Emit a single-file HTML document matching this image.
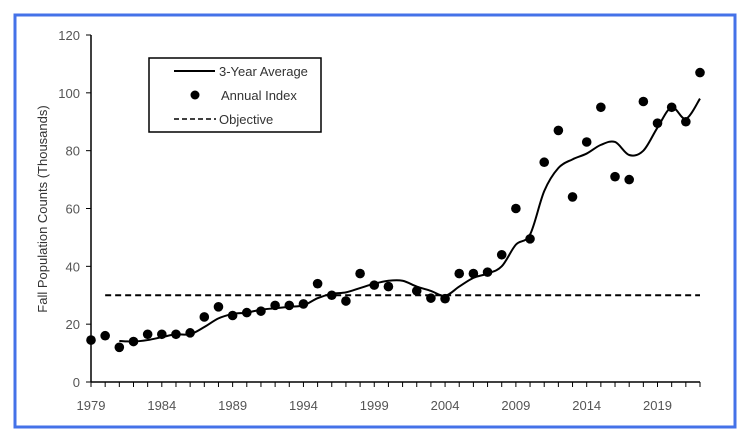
<!DOCTYPE html>
<html><head><meta charset="utf-8"><style>
body{margin:0;background:#fff;}
svg{display:block;font-family:"Liberation Sans",sans-serif;}
</style></head><body>
<svg id="chart" width="739" height="440">
<rect x="15" y="15" width="720" height="412" fill="#fff" stroke="#4472e8" stroke-width="3"/>
<g id="axes"></g><g id="marks"></g>
<g>
<rect x="149" y="58" width="172" height="74" fill="#fff" stroke="#000" stroke-width="1.5"/>
<line x1="174" y1="71" x2="215" y2="71" stroke="#000" stroke-width="2"/>
<text x="219" y="76" font-size="13" fill="#333">3-Year Average</text>
<circle cx="195" cy="95" r="4.5" fill="#000"/>
<text x="221" y="100" font-size="13" fill="#333">Annual Index</text>
<line x1="174" y1="119" x2="216" y2="119" stroke="#000" stroke-width="1.5" stroke-dasharray="5,3"/>
<text x="219" y="124" font-size="13" fill="#333">Objective</text>
</g>
<text transform="translate(47,209) rotate(-90)" text-anchor="middle" font-size="13" fill="#333">Fall Population Counts (Thousands)</text>
</svg>
<script>
const years=[1979,1980,1981,1982,1983,1984,1985,1986,1987,1988,1989,1990,1991,1992,1993,1994,1995,1996,1997,1998,1999,2000,2002,2003,2004,2005,2006,2007,2008,2009,2010,2011,2012,2013,2014,2015,2016,2017,2018,2019,2020,2021,2022];
const annual=[14.5,16,12,14,16.5,16.5,16.5,17,22.5,26,23,24,24.5,26.5,26.5,27,34,30,28,37.5,33.5,33,31.5,29,28.8,37.5,37.5,38,44,60,49.5,76,87,64,83,95,71,70,97,89.5,95,90,107];
const avgYears=[1981,1982,1983,1984,1985,1986,1987,1988,1989,1990,1991,1992,1993,1994,1995,1996,1997,1998,1999,2000,2001,2002,2003,2004,2005,2006,2007,2008,2009,2010,2011,2012,2013,2014,2015,2016,2017,2018,2019,2020,2021,2022];
const avg=[14.2,14,14.5,15.5,16.5,16.5,19,22,23.5,24,25,25.5,26,26.5,29,30.5,31,32.5,34,35,35,33,31.5,29.8,33,36,37.5,40,47.5,51,66,74,77,79,82,83,78.5,80,88,95,91,98];
const objective=[30];
const yTicks=[0,20,40,60,80,100,120];
const xLabels=[1979,1984,1989,1994,1999,2004,2009,2014,2019];
const NS="http://www.w3.org/2000/svg";
const X=y=>91+(y-1979)*(609/43);
const Y=v=>382-v*(347/120);
function mk(t,a,p){const e=document.createElementNS(NS,t);for(const k in a)e.setAttribute(k,a[k]);p.appendChild(e);return e;}
const ax=document.getElementById('axes'),mg=document.getElementById('marks');
let l=mk('line',{x1:91,y1:Y(0),x2:700,y2:Y(0),stroke:'#000','stroke-width':1.5},ax);


l=mk('line',{x1:91,y1:Y(0),x2:91,y2:Y(120),stroke:'#000','stroke-width':1.5},ax);


yTicks.forEach(v=>{
 const t=mk('line',{x1:86,y1:Y(v),x2:91,y2:Y(v),stroke:'#000'},ax);
 
 
 const tx=mk('text',{x:80,y:Y(v)+5,'text-anchor':'end','font-size':13,fill:'#555'},ax);tx.textContent=v;
 
 
});
for(let y=1979;y<=2022;y++){
 const t=mk('line',{x1:X(y),y1:Y(0),x2:X(y),y2:Y(0)+5,stroke:'#000'},ax);
 
 
}
xLabels.forEach(y=>{
 const tx=mk('text',{x:X(y),y:Y(0)+28,'text-anchor':'middle','font-size':13,fill:'#555'},ax);tx.textContent=y;
 
 
});
const ob=mk('line',{x1:X(1980),y1:Y(objective[0]),x2:X(2022),y2:Y(objective[0]),stroke:'#000','stroke-width':2,'stroke-dasharray':'6,4'},mg);


const pts=avgYears.map((y,i)=>[X(y),Y(avg[i])]);
let d='M'+pts[0].join(',');
for(let i=0;i<pts.length-1;i++){
 const p0=pts[Math.max(0,i-1)],p1=pts[i],p2=pts[i+1],p3=pts[Math.min(pts.length-1,i+2)];
 d+=` C${p1[0]+(p2[0]-p0[0])/6},${p1[1]+(p2[1]-p0[1])/6} ${p2[0]-(p3[0]-p1[0])/6},${p2[1]-(p3[1]-p1[1])/6} ${p2[0]},${p2[1]}`;
}
const pl=mk('path',{d:d,fill:'none',stroke:'#000','stroke-width':2},mg);


years.forEach((y,i)=>{
 const c=mk('circle',{cx:X(y),cy:Y(annual[i]),r:4.8,fill:'#000'},mg);
 
 
});
</script>
</body></html>
